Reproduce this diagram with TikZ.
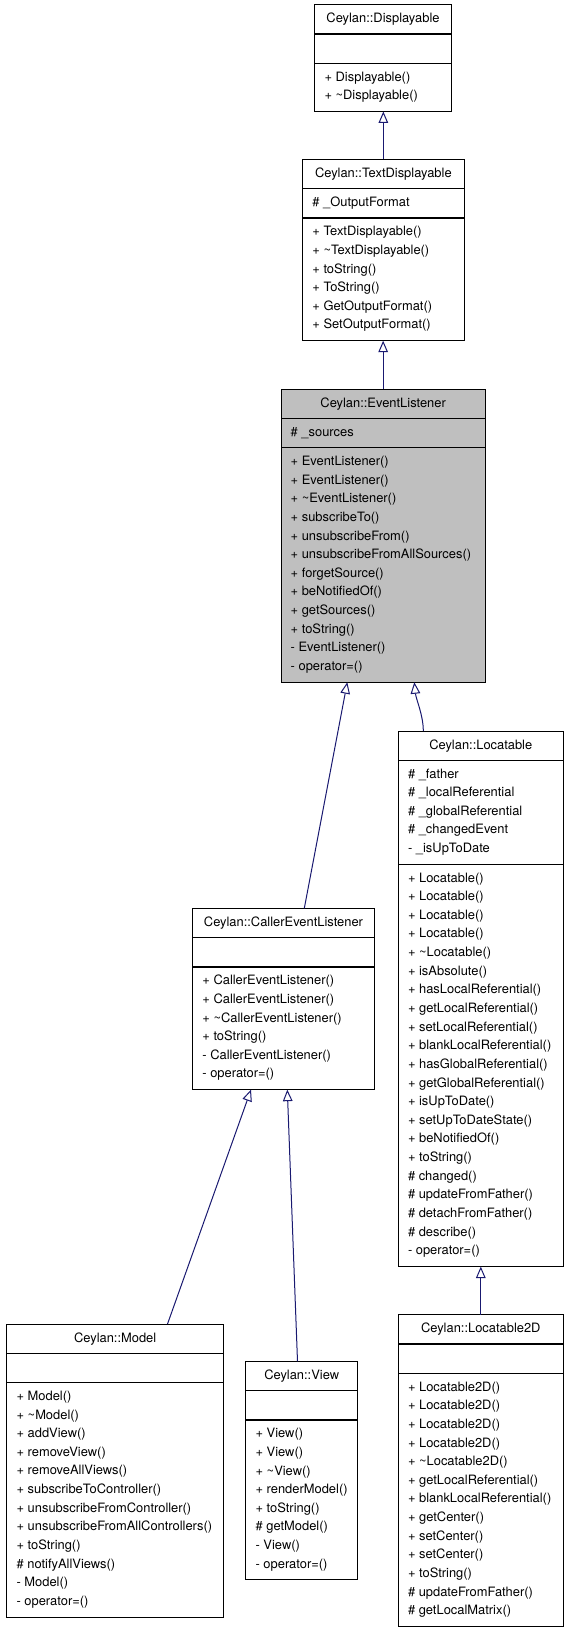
\documentclass[tikz,border=0pt]{standalone}
\usepackage{fontspec}
\setmainfont{TeX Gyre Heros}
\usetikzlibrary{arrows.meta}
\definecolor{edgeblue}{RGB}{25,25,112}
\definecolor{elgray}{RGB}{191,191,191}
\tikzset{
  box/.style={draw=black, fill=white, line width=1pt, inner sep=0pt, outer sep=0pt, rectangle},
  sep/.style={draw=black, line width=1.4pt},
  ctitle/.style={anchor=base, inner sep=0pt, font=\fontsize{12.9pt}{15pt}\selectfont},
  crow/.style={anchor=base west, inner sep=0pt, font=\fontsize{12.9pt}{15pt}\selectfont},
  inh/.style={draw=edgeblue, line width=1pt, -{Triangle[length=11.5pt,width=9.6pt,fill=white]}}
}
\newcommand{\classbox}[9]{%
  \pgfmathsetmacro{\secA}{ifthenelse(#5==0,29.4,#5*18.64+10.8)}%
  \pgfmathsetmacro{\secM}{#6*18.64+10.8}%
  \pgfmathsetmacro{\secT}{29.3+\secA+\secM}%
  \pgfmathsetmacro{\secB}{29.3+\secA}%
  \node[box, minimum width=#4pt, minimum height=\secT pt, anchor=north west] (#1) at (#2,#3) {};
  \node[ctitle] (#1-title) at ([yshift=-18.2pt]#1.north) {#7};
  \draw[sep] ([yshift=-29.3pt]#1.north west) -- ([yshift=-29.3pt]#1.north east);
  \draw[sep] ([yshift=-\secB pt]#1.north west) -- ([yshift=-\secB pt]#1.north east);
  \ifnum#5>0
    \foreach \txt [count=\i] in {#8} {%
      \pgfmathsetmacro{\yy}{29.3+5.4+(\i-0.5)*18.64+3.0}%
      \node[crow] (#1-a\i) at ([xshift=9.5pt,yshift=-\yy pt]#1.north west) {\txt};
    }%
  \fi
  \foreach \txt [count=\i] in {#9} {%
    \pgfmathsetmacro{\yy}{\secB+5.4+(\i-0.5)*18.64+3.0}%
    \node[crow] (#1-m\i) at ([xshift=9.5pt,yshift=-\yy pt]#1.north west) {\txt};
  }%
}
\begin{document}
\begin{tikzpicture}[x=1pt,y=-1pt]
\useasboundingbox (0,0) rectangle (569,1632);

\classbox{disp}{314.8}{4.7}{136.4}{0}{2}{Ceylan::Displayable}{}%
  {+ Displayable(), + \textasciitilde Displayable()}

\classbox{tdisp}{302.7}{159.3}{161.3}{1}{6}{Ceylan::TextDisplayable}%
  {\# \_OutputFormat}%
  {+ TextDisplayable(), + \textasciitilde TextDisplayable(), + toString(), + ToString(), + GetOutputFormat(), + SetOutputFormat()}

\begin{scope}[box/.append style={fill=elgray}]
\classbox{el}{281}{389}{204.3}{1}{12}{Ceylan::EventListener}%
  {\# \_sources}%
  {+ EventListener(), + EventListener(), + \textasciitilde EventListener(), + subscribeTo(), + unsubscribeFrom(), + unsubscribeFromAllSources(), + forgetSource(), + beNotifiedOf(), + getSources(), + toString(), - EventListener(), - operator=()}
\end{scope}

\classbox{loc}{398.3}{731}{165}{5}{21}{Ceylan::Locatable}%
  {\# \_father, \# \_localReferential, \# \_globalReferential, \# \_changedEvent, - \_isUpToDate}%
  {+ Locatable(), + Locatable(), + Locatable(), + Locatable(), + \textasciitilde Locatable(), + isAbsolute(), + hasLocalReferential(), + getLocalReferential(), + setLocalReferential(), + blankLocalReferential(), + hasGlobalReferential(), + getGlobalReferential(), + isUpToDate(), + setUpToDateState(), + beNotifiedOf(), + toString(), \# changed(), \# updateFromFather(), \# detachFromFather(), \# describe(), - operator=()}

\classbox{cel}{192.7}{908.3}{181.6}{0}{6}{Ceylan::CallerEventListener}{}%
  {+ CallerEventListener(), + CallerEventListener(), + \textasciitilde CallerEventListener(), + toString(), - CallerEventListener(), - operator=()}

\classbox{model}{6.9}{1324}{216.6}{0}{12}{Ceylan::Model}{}%
  {+ Model(), + \textasciitilde Model(), + addView(), + removeView(), + removeAllViews(), + subscribeToController(), + unsubscribeFromController(), + unsubscribeFromAllControllers(), + toString(), \# notifyAllViews(), - Model(), - operator=()}

\classbox{view}{245.9}{1361.3}{111.6}{0}{8}{Ceylan::View}{}%
  {+ View(), + View(), + \textasciitilde View(), + renderModel(), + toString(), \# getModel(), - View(), - operator=()}

\classbox{ltwo}{398.3}{1314.7}{165}{0}{13}{Ceylan::Locatable2D}{}%
  {+ Locatable2D(), + Locatable2D(), + Locatable2D(), + Locatable2D(), + \textasciitilde Locatable2D(), + getLocalReferential(), + blankLocalReferential(), + getCenter(), + setCenter(), + setCenter(), + toString(), \# updateFromFather(), \# getLocalMatrix()}

% inheritance connectors
\draw[inh] (tdisp.north) -- (tdisp.north |- disp.south);
\draw[inh] (el.north) -- (el.north |- tdisp.south);
\draw[inh] ([xshift=111.6pt]cel.north west) -- ([xshift=66.3pt]el.south west);
\draw[inh] ([xshift=25pt]loc.north west) .. controls ([xshift=25pt,yshift=16pt]loc.north west) and ([xshift=135pt,yshift=-17pt]el.south west) .. ([xshift=133.3pt]el.south west);
\draw[inh] ([xshift=160.6pt]model.north west) -- ([xshift=58.3pt]cel.south west);
\draw[inh] ([xshift=51.6pt]view.north west) -- ([xshift=94.6pt]cel.south west);
\draw[inh] (ltwo.north) -- (loc.south);
\end{tikzpicture}
\end{document}
